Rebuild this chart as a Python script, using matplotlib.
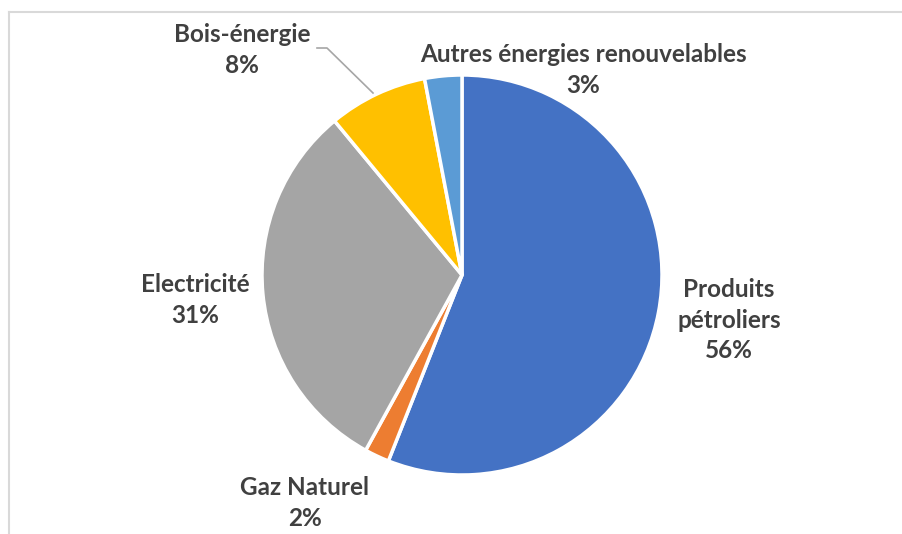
import matplotlib
matplotlib.use("Agg")
import matplotlib.pyplot as plt
from matplotlib.lines import Line2D

# data
categories = ["Produits\npétroliers", "Gaz Naturel", "Electricité", "Bois-énergie",
              "Autres énergies renouvelables"]
shares = [56, 2, 31, 8, 3]
colors = ["#4472C4", "#ED7D31", "#A5A5A5", "#FFC000", "#5B9BD5"]

# label centres in pixel coords (x, y from top)
label_pos = [(729, 320), (305, 503), (195, 300), (242, 50), (583, 70)]

W, H = 903, 534
plt.rcParams['font.family'] = ['Lato', 'DejaVu Sans']

fig = plt.figure(figsize=(W / 100, H / 100), dpi=100)
ax = fig.add_axes([0, 0, 1, 1])

cx, cy, r = 462, H - 275, 200
ax.pie(shares, colors=colors, startangle=90, counterclock=False,
       center=(cx, cy), radius=r,
       wedgeprops=dict(edgecolor="white", linewidth=2.5))

for name, val, (x, y) in zip(categories, shares, label_pos):
    ax.text(x, H - y, f"{name}\n{val}%", ha="center", va="center",
            fontsize=17.5, fontweight="bold", color="#404040", linespacing=1.38)

# leader line for Bois-énergie
ax.add_line(Line2D([317, 327, 373], [H - 48, H - 48, H - 93], color="#A6A6A6", lw=1.2))

# chart frame (only top and left edges visible)
ax.add_line(Line2D([9, W], [H - 12, H - 12], color="#D9D9D9", lw=1.5))
ax.add_line(Line2D([9, 9], [H - 12, 0], color="#D9D9D9", lw=1.5))

ax.set_xlim(0, W)
ax.set_ylim(0, H)
ax.set_aspect("auto")
ax.axis("off")

fig.savefig("out.png", dpi=100)
